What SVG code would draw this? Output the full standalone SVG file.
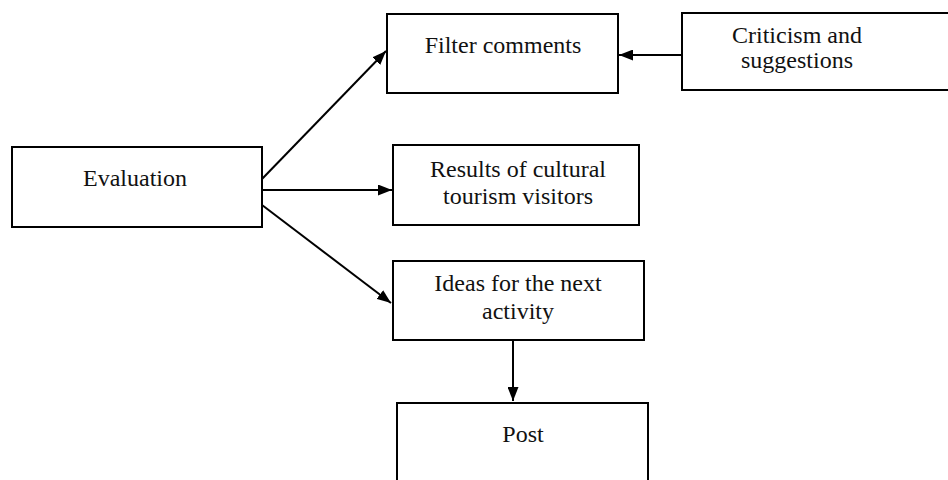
<svg xmlns="http://www.w3.org/2000/svg" width="948" height="480" viewBox="0 0 948 480">
<style>
.box{fill:#fff;stroke:#000;stroke-width:2}
.lbl{font-family:"Liberation Serif","Times New Roman",serif;font-size:24px;fill:#111;text-anchor:middle}
.edge{stroke:#000;stroke-width:2;fill:none;marker-end:url(#ah)}
</style>
<defs>
<marker id="ah" viewBox="0 0 14 11" refX="14" refY="5.5" markerWidth="14" markerHeight="11" markerUnits="userSpaceOnUse" orient="auto">
<path d="M0,0 L14,5.5 L0,11 Z" fill="#000"/>
</marker>
</defs>
<rect width="948" height="480" fill="#fff"/>
<g id="evaluation">
<rect class="box" x="12" y="147" width="250" height="80"/>
<text class="lbl" x="135" y="186">Evaluation</text>
</g>
<g id="filter">
<rect class="box" x="387" y="14" width="231" height="79"/>
<text class="lbl" x="503" y="53">Filter comments</text>
</g>
<g id="criticism">
<rect class="box" x="682" y="13" width="280" height="77"/>
<text class="lbl" x="797" y="43">Criticism and</text>
<text class="lbl" x="797" y="68">suggestions</text>
</g>
<g id="results">
<rect class="box" x="393" y="145" width="246" height="80"/>
<text class="lbl" x="518" y="177">Results of cultural</text>
<text class="lbl" x="518" y="204">tourism visitors</text>
</g>
<g id="ideas">
<rect class="box" x="393" y="261" width="251" height="79"/>
<text class="lbl" x="518" y="291">Ideas for the next</text>
<text class="lbl" x="518" y="319">activity</text>
</g>
<g id="post">
<rect class="box" x="397" y="403" width="251" height="90"/>
<text class="lbl" x="523" y="442">Post</text>
</g>
<g id="connectors">
<line class="edge" x1="262" y1="179" x2="386" y2="51"/>
<line class="edge" x1="262" y1="190" x2="392" y2="190"/>
<line class="edge" x1="262" y1="205" x2="391" y2="303"/>
<line class="edge" x1="682" y1="55" x2="619" y2="55"/>
<line class="edge" x1="513" y1="340" x2="513" y2="401"/>
</g>
</svg>
